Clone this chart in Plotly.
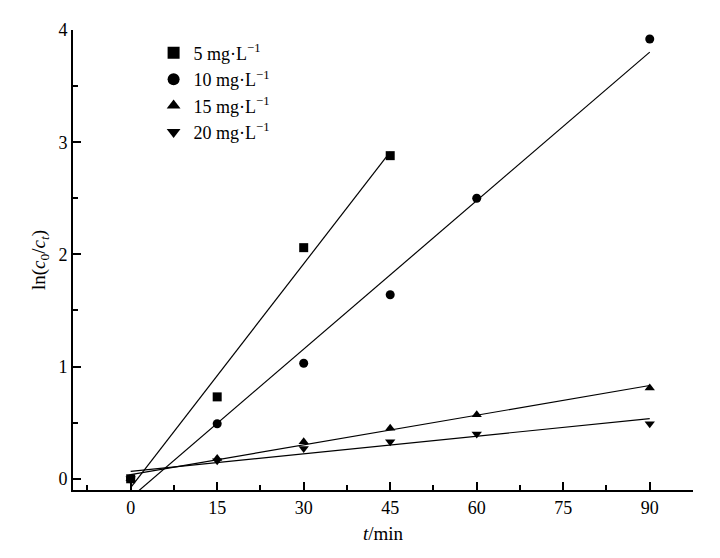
import numpy as np
import plotly.graph_objects as go

t_5 = [0, 15, 30, 45]
y_5 = [0, 0.73, 2.06, 2.88]
t_all = [0, 15, 30, 45, 60, 90]
y_10 = [0, 0.49, 1.03, 1.64, 2.50, 3.92]
y_15 = [0, 0.18, 0.33, 0.45, 0.57, 0.81]
y_20 = [0, 0.16, 0.27, 0.33, 0.40, 0.49]

series = [
    ("5 mg·L<sup>−1</sup>", t_5, y_5, "square"),
    ("10 mg·L<sup>−1</sup>", t_all, y_10, "circle"),
    ("15 mg·L<sup>−1</sup>", t_all, y_15, "triangle-up"),
    ("20 mg·L<sup>−1</sup>", t_all, y_20, "triangle-down"),
]

fig = go.Figure()
for name, x, y, sym in series:
    k, b = np.polyfit(x, y, 1)
    xs = [0, max(x)]
    fig.add_trace(go.Scatter(x=xs, y=[k * v + b for v in xs], mode="lines",
                             line=dict(color="black", width=1.2), showlegend=False,
                             hoverinfo="skip"))
for name, x, y, sym in series:
    fig.add_trace(go.Scatter(x=x, y=y, mode="markers", name=name,
                             marker=dict(symbol=sym, color="black", size=9)))

serif = "Liberation Serif"
axis = dict(showline=True, linecolor="black", linewidth=2, ticks="inside",
            ticklen=8, tickwidth=2, tickcolor="black", showgrid=False,
            zeroline=False, tickfont=dict(family=serif, size=18, color="black"))
fig.update_xaxes(range=[-10, 97.5], tickvals=[0, 15, 30, 45, 60, 75, 90],
                 minor=dict(ticks="inside", ticklen=5, tickwidth=2, dtick=7.5,
                            tick0=-7.5, tickcolor="black"),
                 title=dict(text="<i>t</i>/min", standoff=10,
                            font=dict(family=serif, size=19, color="black")),
                 **axis)
fig.update_yaxes(range=[-0.1, 4], tickvals=[0, 1, 2, 3, 4],
                 minor=dict(ticks="inside", ticklen=5, tickwidth=2, dtick=0.5,
                            tick0=0, tickcolor="black"),
                 title=dict(text="ln(<i>c</i><sub>0</sub>/<i>c</i><sub><i>t</i></sub>)",
                            font=dict(family=serif, size=19, color="black"), standoff=8),
                 **axis)
fig.update_layout(
    width=720, height=558, plot_bgcolor="white", paper_bgcolor="white",
    margin=dict(l=65, r=35, t=12, b=76),
    font=dict(family=serif, size=18, color="black"),
    legend=dict(x=0.13, y=0.99, xanchor="left", yanchor="top",
                bgcolor="rgba(0,0,0,0)", font=dict(family=serif, size=18),
                tracegroupgap=0, itemsizing="constant"),
)
fig.write_html("out.html")
